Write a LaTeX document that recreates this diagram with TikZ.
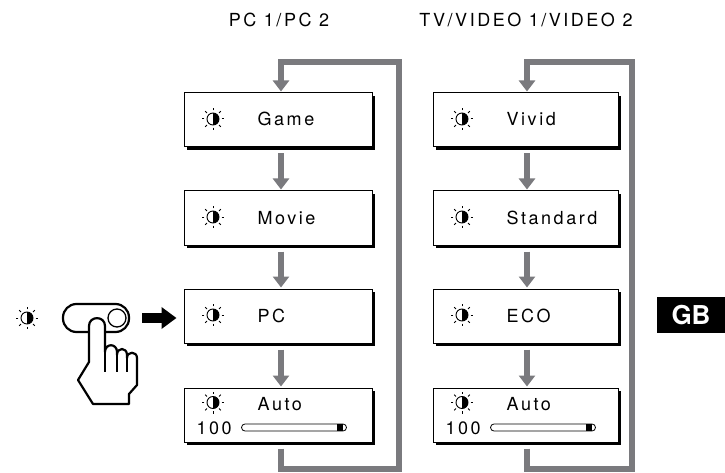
\documentclass[tikz,border=0pt]{standalone}
\usepackage{fontspec}
\setmainfont{TeX Gyre Heros}
\newfontfamily\spaced[LetterSpace=14]{TeX Gyre Heros}
\usetikzlibrary{arrows.meta,calc,shadows}
\definecolor{loopgray}{RGB}{122,122,126}
\begin{document}
\begin{tikzpicture}[x=1pt,y=-1pt,
  menubox/.style={draw=black, line width=1pt, fill=white, minimum height=54pt, inner sep=0pt,
    drop shadow={shadow xshift=3pt, shadow yshift=-3pt, fill=black, opacity=1}},
  menutext/.style={font=\spaced\fontsize{18}{21}\selectfont, anchor=base west, inner sep=0pt},
  flow/.style={draw=loopgray, line width=6pt, -{Triangle[width=16pt,length=11pt]}},
  loopback/.style={flow, line join=miter},
  bright/.pic={
    \fill[white] (0,0) circle[radius=6pt];
    \fill[black] (90:6pt) arc[start angle=90,end angle=-90,radius=6pt] -- cycle;
    \draw[line width=0.9pt] (0,0) circle[radius=6pt];
    \foreach \a in {0,45,...,315} \draw[line width=1pt] (\a:8.6pt) -- (\a:11pt);
  },
  slider/.pic={
    \draw[line width=0.8pt, rounded corners=3.5pt] (0,-3.5) rectangle (105,3.5);
    \fill[black] (95,-3.5) rectangle (101,3.5);
  }]
\useasboundingbox (0,0) rectangle (725,473);

% column headings
\node[menutext, anchor=base] (hpc) at (279,27) {PC 1/PC 2};
\node[menutext, anchor=base] (htv) at (526,27) {TV/VIDEO 1/VIDEO 2};

% left column menu boxes
\node[menubox, minimum width=188pt] (game)  at (278,120) {};
\node[menubox, minimum width=188pt] (movie) at (278,218) {};
\node[menubox, minimum width=188pt] (pc)    at (278,316) {};
\node[menubox, minimum width=188pt] (autoL) at (278,415) {};

% right column menu boxes
\node[menubox, minimum width=185pt] (vivid) at (525.5,120) {};
\node[menubox, minimum width=185pt] (std)   at (525.5,218) {};
\node[menubox, minimum width=185pt] (eco)   at (525.5,316) {};
\node[menubox, minimum width=185pt] (autoR) at (525.5,415) {};

% single-line entries
\foreach \b/\t in {game/Game, movie/Movie, pc/PC, vivid/Vivid, std/Standard, eco/ECO}{
  \pic at ($(\b.west)+(29.5,-1)$) {bright};
  \node[menutext] at ($(\b.west)+(74,6)$) {\t};
}

% auto entries with level bar
\foreach \b in {autoL, autoR}{
  \pic at ($(\b.west)+(29.5,-12.5)$) {bright};
  \node[menutext] at ($(\b.west)+(74,-4.5)$) {Auto};
  \node[menutext] at ($(\b.west)+(13,19.5)$) {100};
  \pic at ($(\b.west)+(58,12.5)$) {slider};
}

% downward steps
\draw[flow] ($(game.south)+(3,6)$)  -- ($(movie.north)+(3,-1)$);
\draw[flow] ($(movie.south)+(3,6)$) -- ($(pc.north)+(3,-1)$);
\draw[flow] ($(pc.south)+(3,6)$)    -- ($(autoL.north)+(3,-1)$);
\draw[flow] ($(vivid.south)+(1.5,6)$) -- ($(std.north)+(1.5,-1)$);
\draw[flow] ($(std.south)+(1.5,6)$)   -- ($(eco.north)+(1.5,-1)$);
\draw[flow] ($(eco.south)+(1.5,6)$)   -- ($(autoR.north)+(1.5,-1)$);

% return loops
\coordinate (lbot) at (399,469);
\coordinate (ltop) at (399,62);
\coordinate (rbot) at (632,469);
\coordinate (rtop) at (632,62);
\draw[loopback] ($(autoL.south)+(3,6)$) |- (lbot) -- (ltop) -| ($(game.north)+(3,-1)$);
\draw[loopback] ($(autoR.south)+(1.5,6)$) |- (rbot) -- (rtop) -| ($(vivid.north)+(1.5,-1)$);

% brightness button and pressing hand
\pic at (27,318) {bright};
\draw[line width=2.2pt, fill=white, rounded corners=13.5pt] (63,304) rectangle (129,332);
\draw[line width=1.3pt] (117,318) circle[radius=9pt];
\draw[line width=2.2pt, fill=white, line join=round]
  (89,326) .. controls (89,315.5) and (105,315.5) .. (105,326)
  -- (105,352) .. controls (105,343) and (117,343) .. (117,352)
  -- (117,355) .. controls (117,347) and (127,347) .. (127,355)
  -- (127,358) .. controls (127,351) and (137,351) .. (137,358)
  -- (137,385) -- (129,394) -- (129,404) -- (93,404) -- (78,380) -- (89,362) -- cycle;
\draw[line width=1.6pt] (105,352) -- (105,372) (117,355) -- (117,372) (127,358) -- (127,372);
\coordinate (press) at (142,318);
\draw[line width=10pt, -{Triangle[width=21pt,length=15pt]}] (press) -- ($(pc.west)+(-7,2)$);

% language tab
\node[fill=black, text=white, font=\bfseries\fontsize{26}{26}\selectfont,
  minimum width=68pt, minimum height=36pt, inner sep=0pt] (gb) at (691,315) {GB};
\end{tikzpicture}
\end{document}
